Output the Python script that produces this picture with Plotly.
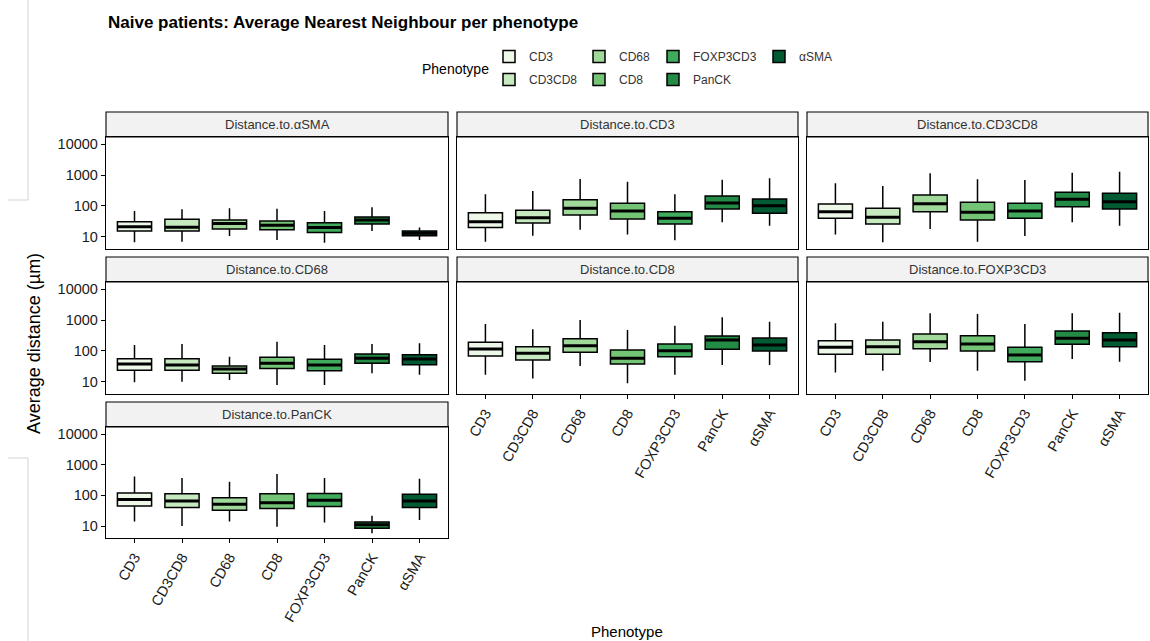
import plotly.graph_objects as go

W, H = 1150, 641

PHENO = ["CD3", "CD3CD8", "CD68", "CD8", "FOXP3CD3", "PanCK", "αSMA"]
COLORS = ["#EDF8E9", "#C7E9C0", "#A1D99B", "#74C476", "#41AB5D", "#238B45", "#005A32"]
FACETS = ["Distance.to.αSMA", "Distance.to.CD3", "Distance.to.CD3CD8",
          "Distance.to.CD68", "Distance.to.CD8", "Distance.to.FOXP3CD3",
          "Distance.to.PanCK"]

# rows = facets (same order as FACETS), columns = phenotypes (same order as PHENO)
UPPER = [
    [69, 78, 84, 82, 69, 91, 20],
    [238, 305, 743, 608, 238, 705, 783],
    [540, 441, 1135, 726, 690, 1186, 1276],
    [156, 168, 65, 200, 156, 168, 177],
    [743, 501, 1000, 475, 655, 1222, 881],
    [783, 881, 1646, 1563, 743, 1646, 1719],
    [410, 372, 277, 501, 372, 21.5, 346],
]
Q3 = [
    [31, 37, 35, 33, 29, 44, 15.6],
    [61, 73, 160, 122, 65, 210, 168],
    [116, 84, 226, 132, 122, 277, 257],
    [56.5, 56.5, 33, 63, 54, 80, 76],
    [191, 138, 249, 108, 168, 305, 262],
    [215, 226, 353, 312, 132, 441, 389],
    [119, 113, 84, 113, 116, 13.5, 108],
]
MEDIAN = [
    [21.5, 20.5, 27, 24, 20, 35, 13.2],
    [31, 42, 84, 69, 40, 125, 102],
    [65, 43, 119, 63, 69, 164, 138],
    [38, 35, 26, 40, 35, 58, 55],
    [116, 84, 148, 58, 102, 226, 156],
    [132, 138, 200, 168, 74, 257, 226],
    [73, 65, 51, 58, 69, 11, 65],
]
Q1 = [
    [15.6, 15.6, 18, 17, 14, 26, 11],
    [20, 28, 51, 38, 26, 80, 58],
    [40, 26, 65, 35, 40, 95, 80],
    [24, 24, 19, 27, 23, 40, 36],
    [69, 51, 91, 38, 65, 113, 100],
    [78, 78, 119, 100, 45, 164, 138],
    [45, 40, 33, 37, 43, 8.4, 40],
]
LOWER = [
    [6.7, 7, 10.8, 8, 6.5, 15.6, 8],
    [7, 11, 17, 12, 7.8, 30, 23],
    [12, 6.7, 18, 7, 10.8, 30, 23],
    [9.8, 10.2, 11.6, 8, 8, 19, 17],
    [17, 13, 33, 9, 17, 35, 35],
    [20, 23, 44, 23, 11, 55, 45],
    [14, 10, 14, 9.5, 13, 5.8, 15.6],
]
Y_TICKS = [10, 100, 1000, 10000]
Y_TICKTEXT = ["10", "100", "1000", "10000"]

FONT = "Liberation Sans, Arial, Helvetica, sans-serif"

# geometry (pixels)
COLS = [(106, 448), (457, 798), (807, 1148)]
ROWS = [(137, 249), (282, 394), (427, 538)]
STRIP_H = 25

def px(x):
    return x / W

def py(y):
    return 1 - y / H

LEGEND_OF = ["legend", "legend", "legend2", "legend2", "legend3", "legend3", "legend4"]

fig = go.Figure()
layout = {}
shapes = []
annotations = []

for i, facet in enumerate(FACETS):
    r, c = divmod(i, 3)
    x0, x1 = COLS[c]
    y0, y1 = ROWS[r]
    sx = "" if i == 0 else str(i + 1)
    show_x = i in (4, 5, 6)
    show_y = c == 0
    layout["xaxis" + sx] = dict(
        domain=[px(x0), px(x1)], anchor="y" + sx, type="category",
        categoryorder="array", categoryarray=PHENO, range=[-0.6, 6.6],
        showline=True, mirror=True, linecolor="black", linewidth=1.3,
        showgrid=False, zeroline=False,
        ticks="outside" if show_x else "", ticklen=4, tickwidth=1.3, tickcolor="black",
        showticklabels=show_x, tickangle=-60,
        tickfont=dict(family=FONT, size=14.5, color="#1a1a1a"),
    )
    layout["yaxis" + sx] = dict(
        domain=[py(y1), py(y0)], anchor="x" + sx, type="log",
        range=[0.61, 4.23], tickvals=Y_TICKS, ticktext=Y_TICKTEXT,
        showline=True, mirror=True, linecolor="black", linewidth=1.3,
        showgrid=False, zeroline=False,
        ticks="outside" if show_y else "", ticklen=4, tickwidth=1.3, tickcolor="black",
        showticklabels=show_y,
        tickfont=dict(family=FONT, size=14.5, color="#1a1a1a"),
    )
    # strip
    shapes.append(dict(type="rect", xref="paper", yref="paper",
                       x0=px(x0), x1=px(x1), y0=py(y0), y1=py(y0 - STRIP_H),
                       fillcolor="#F2F2F2", line=dict(color="black", width=1.1), layer="below"))
    annotations.append(dict(xref="paper", yref="paper", x=px((x0 + x1) / 2),
                            y=py(y0 - STRIP_H / 2), text=facet, showarrow=False,
                            xanchor="center", yanchor="middle",
                            font=dict(family=FONT, size=13, color="#333333")))
    for j, ph in enumerate(PHENO):
        fig.add_trace(go.Box(
            x=[ph], q1=[Q1[i][j]], median=[MEDIAN[i][j]], q3=[Q3[i][j]],
            lowerfence=[LOWER[i][j]], upperfence=[UPPER[i][j]],
            fillcolor=COLORS[j], line=dict(color="black", width=1.5),
            width=0.72, boxpoints=False, whiskerwidth=0,
            name=ph, legendgroup=ph, showlegend=(i == 0), legend=LEGEND_OF[j],
            xaxis="x" + sx, yaxis="y" + sx, hoverinfo="skip",
        ))
    # thicker median bars, as in the reference
    fig.add_trace(go.Scatter(
        x=PHENO, y=MEDIAN[i], mode="markers",
        marker=dict(symbol="line-ew", size=24, color="black",
                    line=dict(color="black", width=3)),
        showlegend=False, hoverinfo="skip", xaxis="x" + sx, yaxis="y" + sx,
    ))

# faint artefact lines at the left edge of the reference picture
for (ax0, ay0, ax1, ay1) in [(28, 0, 28, 200), (8, 200, 28, 200), (8, 458, 28, 458), (28, 458, 28, 641)]:
    shapes.append(dict(type="line", xref="paper", yref="paper",
                       x0=px(ax0), y0=py(ay0), x1=px(ax1), y1=py(ay1),
                       line=dict(color="#d4d4d4", width=1)))

# titles
annotations.append(dict(xref="paper", yref="paper", x=px(106), y=py(22),
                        text="<b>Naive patients: Average Nearest Neighbour per phenotype</b>",
                        showarrow=False, xanchor="left", yanchor="middle",
                        font=dict(family=FONT, size=17, color="black")))
annotations.append(dict(xref="paper", yref="paper", x=px(627), y=py(631),
                        text="Phenotype", showarrow=False, xanchor="center", yanchor="middle",
                        font=dict(family=FONT, size=15, color="black")))
annotations.append(dict(xref="paper", yref="paper", x=px(34), y=py(344),
                        text="Average distance (µm)", showarrow=False, textangle=-90,
                        xanchor="center", yanchor="middle",
                        font=dict(family=FONT, size=18, color="black")))
annotations.append(dict(xref="paper", yref="paper", x=px(420), y=py(69),
                        text="Phenotype", showarrow=False, xanchor="left", yanchor="middle",
                        font=dict(family=FONT, size=14, color="black")))

legend_common = dict(orientation="v", xanchor="left", yanchor="top",
                     bgcolor="rgba(0,0,0,0)", borderwidth=0, tracegroupgap=4,
                     font=dict(family=FONT, size=12, color="#333333"),
                     itemclick=False, itemdoubleclick=False)
layout["legend"] = dict(x=px(489), y=py(42), **legend_common)
layout["legend2"] = dict(x=px(579), y=py(42), **legend_common)
layout["legend3"] = dict(x=px(653), y=py(42), **legend_common)
layout["legend4"] = dict(x=px(759), y=py(42), **legend_common)

fig.update_layout(
    width=W, height=H, margin=dict(l=0, r=0, t=0, b=0),
    paper_bgcolor="white", plot_bgcolor="white",
    boxmode="overlay", shapes=shapes, annotations=annotations,
    **layout,
)

fig.write_html("out.html", config={"displayModeBar": False},
               post_script="document.body.style.margin='0';document.body.style.overflow='hidden';")
